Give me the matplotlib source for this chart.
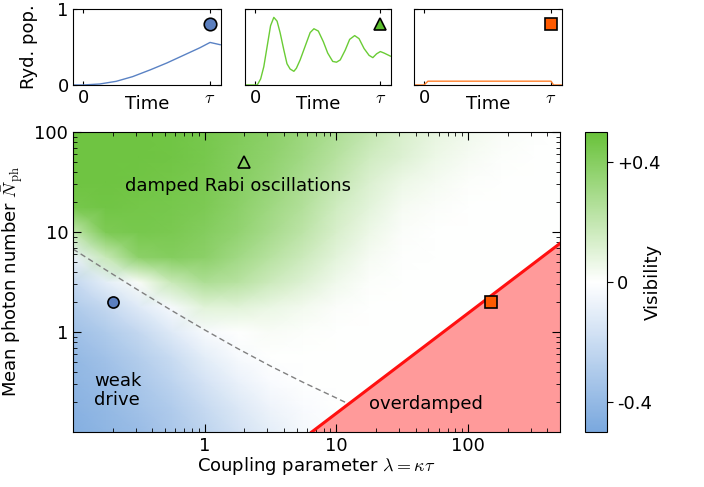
import numpy as np
import matplotlib
matplotlib.use("Agg")
import matplotlib.pyplot as plt
from matplotlib.colors import LinearSegmentedColormap
from matplotlib.ticker import FixedLocator, FixedFormatter, NullFormatter, LogLocator

plt.rcParams['font.family'] = ['DejaVu Sans']
plt.rcParams['mathtext.fontset'] = 'cm'
plt.rcParams['font.size'] = 13

# --- time traces (top row) ---
t_weak = [-0.08, 0, 0.13, 0.26, 0.39, 0.53, 0.66, 0.79, 0.92, 1.0, 1.08]
p_weak = [0, 0, 0.013, 0.048, 0.11, 0.2, 0.29, 0.39, 0.49, 0.56, 0.53]

t_rabi = [-0.08, 0.0, 0.018, 0.045, 0.07, 0.097, 0.124, 0.15, 0.176, 0.2, 0.23, 0.255,
          0.28, 0.31, 0.33, 0.36, 0.4, 0.44, 0.47, 0.505, 0.545, 0.58, 0.62, 0.65,
          0.68, 0.72, 0.755, 0.795, 0.83, 0.87, 0.91, 0.94, 0.97, 1.0, 1.03, 1.08]
p_rabi = [0, 0, 0, 0.08, 0.24, 0.51, 0.78, 0.89, 0.84, 0.69, 0.46, 0.28,
          0.21, 0.18, 0.22, 0.33, 0.51, 0.69, 0.74, 0.71, 0.57, 0.42, 0.31, 0.30,
          0.33, 0.46, 0.60, 0.65, 0.61, 0.48, 0.39, 0.36, 0.41, 0.44, 0.42, 0.38]

t_over = [-0.08, 0, 0.03, 0.97, 1.0, 1.02, 1.08]
p_over = [0, 0, 0.05, 0.05, 0.05, 0, 0]

# --- visibility map (rows: log10 N, columns: log10 lambda) ---
log_lam = [-1, -0.75, -0.5, -0.25, 0, 0.25, 0.5, 0.75, 1, 1.25, 1.5, 1.75, 2, 2.25, 2.5, 2.7]
log_N = [-1, -0.75, -0.5, -0.25, 0, 0.25, 0.5, 0.75, 1, 1.25, 1.5, 1.75, 2]
visibility = [
    [-0.46, -0.42, -0.38, -0.32, -0.25, -0.17, -0.10, -0.04, -0.01, 0, 0, 0, 0, 0, 0, 0],
    [-0.44, -0.40, -0.35, -0.29, -0.21, -0.13, -0.06, -0.02, 0, 0, 0, 0, 0, 0, 0, 0],
    [-0.42, -0.38, -0.32, -0.25, -0.16, -0.08, -0.02, 0, 0, 0, 0, 0, 0, 0, 0, 0],
    [-0.40, -0.35, -0.28, -0.20, -0.10, -0.03, 0, 0, 0, 0, 0, 0, 0, 0, 0, 0],
    [-0.36, -0.30, -0.22, -0.12, -0.03, 0.00, 0.02, 0.01, 0, 0, 0, 0, 0, 0, 0, 0],
    [-0.30, -0.22, -0.12, -0.03, 0.10, 0.10, 0.07, 0.04, 0.015, 0, 0, 0, 0, 0, 0, 0],
    [-0.22, -0.10, 0.02, 0.18, 0.27, 0.24, 0.17, 0.11, 0.05, 0.01, 0, 0, 0, 0, 0, 0],
    [-0.08, 0.18, 0.38, 0.41, 0.38, 0.31, 0.24, 0.17, 0.09, 0.03, 0.005, 0, 0, 0, 0, 0],
    [0.20, 0.43, 0.45, 0.44, 0.41, 0.36, 0.29, 0.22, 0.13, 0.06, 0.015, 0, 0, 0, 0, 0],
    [0.45, 0.47, 0.46, 0.45, 0.43, 0.38, 0.32, 0.25, 0.16, 0.09, 0.03, 0.015, 0, 0, 0, 0],
    [0.48, 0.48, 0.47, 0.46, 0.44, 0.40, 0.35, 0.28, 0.20, 0.12, 0.06, 0.035, 0.01, 0, 0, 0],
    [0.48, 0.48, 0.48, 0.47, 0.45, 0.41, 0.37, 0.31, 0.24, 0.16, 0.11, 0.06, 0.03, 0.01, 0, 0],
    [0.48, 0.48, 0.48, 0.47, 0.45, 0.42, 0.38, 0.33, 0.27, 0.20, 0.13, 0.08, 0.05, 0.02, 0.005, 0],
]

# boundary lines
dash_lam = [0.1, 0.178, 0.316, 0.562, 1.0, 1.78, 3.16, 5.62, 10, 12]
dash_N = [6.76, 4.17, 2.60, 1.64, 1.05, 0.684, 0.457, 0.313, 0.219, 0.195]
red_lam = [6.5, 500]
red_N = [0.1, 7.7]

# example points
pt_lam = [0.2, 2, 150]
pt_N = [2, 50, 2]

blue = '#5b7fbf'
green = '#5cbf2e'
orange = '#ff5a00'

cmap = LinearSegmentedColormap.from_list('vis', ['#7aa8de', '#ffffff', '#69c23a'])

fig = plt.figure(figsize=(7.04, 4.87), dpi=100)

# top row
panel_x = [0.1037, 0.348, 0.588]
panel_w = [0.21, 0.2074, 0.21]
traces = [(t_weak, p_weak, '#5a82c4', 'o', blue),
          (t_rabi, p_rabi, '#6acc35', '^', green),
          (t_over, p_over, '#ff7f2a', 's', orange)]
for i, (tt, pp, lc, mk, mc) in enumerate(traces):
    ax = fig.add_axes([panel_x[i], 0.8255, panel_w[i], 0.156])
    ax.plot(tt, pp, color=lc, lw=1)
    ax.plot([1.0], [0.8], marker=mk, ms=9, mfc=mc, mec='black', mew=1.2, ls='none')
    ax.set_xlim(-0.08, 1.085)
    ax.set_ylim(0, 1)
    ax.set_xticks([0, 1])
    ax.set_xticklabels(['0', r'$\tau$'])
    ax.tick_params(direction='in', top=True, right=True, length=3, pad=3)
    ax.set_xlabel('Time', labelpad=-9)
    ax.set_yticks([0, 1])
    if i == 0:
        ax.set_ylabel('Ryd. pop.', labelpad=14)
    else:
        ax.set_yticklabels([])

# main map
ax = fig.add_axes([0.1037, 0.1129, 0.6918, 0.616])
X, Y = np.meshgrid(10.0 ** np.array(log_lam), 10.0 ** np.array(log_N))
mesh = ax.pcolormesh(X, Y, np.array(visibility), cmap=cmap, vmin=-0.5, vmax=0.5,
                     shading='gouraud', rasterized=True)
ax.set_xscale('log')
ax.set_yscale('log')
ax.set_xlim(0.1, 500)
ax.set_ylim(0.1, 100)

ax.fill_between(red_lam, red_N, 0.1, color='#ff9a9a', lw=0)
ax.plot(red_lam, red_N, color='#ff1010', lw=2.2)
ax.plot(dash_lam, dash_N, color='gray', lw=1, ls=(0, (4, 2.5)))

ax.plot(pt_lam[0], pt_N[0], 'o', ms=8, mfc=blue, mec='black', mew=1.2)
ax.plot(pt_lam[1], pt_N[1], '^', ms=8, mfc='none', mec='black', mew=1.2)
ax.plot(pt_lam[2], pt_N[2], 's', ms=8, mfc=orange, mec='black', mew=1.2)

ax.text(1.8, 29, 'damped Rabi oscillations', ha='center', va='center')
ax.text(0.145, 0.26, 'weak\ndrive', ha='left', va='center', multialignment='left',
        linespacing=1.1)
ax.text(48, 0.19, 'overdamped', ha='center', va='center')

ax.xaxis.set_major_locator(FixedLocator([1, 10, 100]))
ax.xaxis.set_major_formatter(FixedFormatter(['1', '10', '100']))
ax.yaxis.set_major_locator(FixedLocator([1, 10, 100]))
ax.yaxis.set_major_formatter(FixedFormatter(['1', '10', '100']))
ax.xaxis.set_minor_locator(LogLocator(subs=np.arange(2, 10)))
ax.yaxis.set_minor_locator(LogLocator(subs=np.arange(2, 10)))
ax.xaxis.set_minor_formatter(NullFormatter())
ax.yaxis.set_minor_formatter(NullFormatter())
ax.tick_params(which='both', direction='in', top=True, right=True)
ax.tick_params(which='major', length=6)
ax.tick_params(which='minor', length=3)
ax.set_xlabel(r'Coupling parameter $\lambda = \kappa\tau$', labelpad=0)
ax.set_ylabel(r'Mean photon number $\bar{N}_{\rm ph}$', labelpad=6)

# colorbar
cax = fig.add_axes([0.831, 0.1129, 0.031, 0.616])
cb = fig.colorbar(mesh, cax=cax)
cb.set_ticks([0.4, 0, -0.4])
cb.set_ticklabels(['+0.4', '0', '-0.4'])
cb.ax.tick_params(length=4)
cb.set_label('Visibility', labelpad=-12)

fig.savefig('out.png', dpi=100)
